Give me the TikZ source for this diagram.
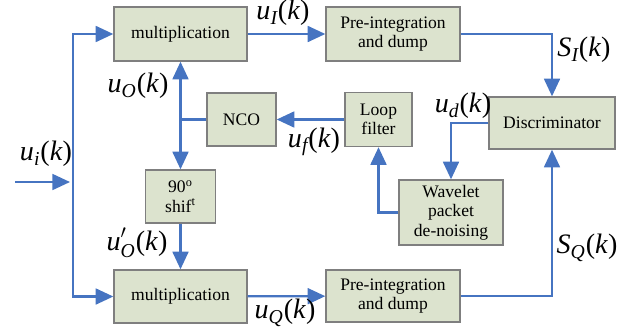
\documentclass[tikz,border=0pt]{standalone}
\usepackage{amsmath}
\usepackage{fontspec}
\setmainfont{Liberation Serif}
\usetikzlibrary{arrows.meta, positioning}
\definecolor{boxfill}{HTML}{DCE3CE}
\definecolor{boxline}{HTML}{7F7F7F}
\definecolor{wireblue}{HTML}{4674C1}
% signal name: letter, subscript, argument k
\newcommand{\sig}[2]{$\textit{#1}_{\textit{#2}}$(\textit{k})}

\begin{document}
\begin{tikzpicture}[
    block/.style = {
      rectangle, draw=boxline, fill=boxfill, line width=0.8pt,
      align=center, inner sep=0pt, font=\fontsize{10}{11}\selectfont
    },
    wire/.style  = {-{Triangle[length=10pt,width=9pt]}, line width=1.3pt, color=wireblue},
    plain/.style = {line width=1.3pt, color=wireblue},
    lbl/.style   = {font=\fontsize{16}{18}\selectfont, inner sep=0pt}
  ]
  \useasboundingbox (0,0) rectangle (12.42,-6.66);

  % I branch (top row)
  \node[block, minimum width=2.66cm, minimum height=1.08cm] at (3.61,-0.68) (multI) {multiplication};
  \node[block, minimum width=2.68cm, minimum height=1.08cm] at (7.86,-0.68) (preI)  {Pre-integration\\and dump};

  % loop in the middle
  \node[block, minimum width=2.52cm, minimum height=1.04cm] at (11.04,-2.46) (disc) {Discriminator};
  \node[block, minimum width=1.34cm, minimum height=1.08cm] at (7.57,-2.39)  (loop) {Loop\\filter};
  \node[block, minimum width=1.38cm, minimum height=1.06cm] at (4.83,-2.39)  (nco)  {NCO};
  \node[block, minimum width=1.40cm, minimum height=1.06cm] at (3.61,-3.93)  (shift) {90\textsuperscript{o}\\shif\textsuperscript{t}};
  \node[block, minimum width=2.08cm, minimum height=1.30cm] at (9.02,-4.25)  (wave) {Wavelet\\packet\\de-noising};

  % Q branch (bottom row)
  \node[block, minimum width=2.66cm, minimum height=1.06cm] at (3.61,-5.93) (multQ) {multiplication};
  \node[block, minimum width=2.68cm, minimum height=1.04cm] at (7.86,-5.92) (preQ)  {Pre-integration\\and dump};

  % input and trunk
  \coordinate (in)  at (0.30,-3.64);
  \coordinate (tin) at (1.46,-3.64);
  \coordinate (tap) at (nco.west -| multI.south);

  % Arrows
  \draw[wire]  (in) -- (1.40,-3.64);
  \draw[wire]  (tin) |- (multI.west);
  \draw[wire]  (tin) |- (multQ.west);
  \draw[wire]  (multI) -- (preI);
  \draw[wire]  (multQ) -- (preQ);
  \draw[wire]  (preI.east) -| (disc.north);
  \draw[wire]  (preQ.east) -| (disc.south);
  \draw[wire]  (disc.west) -| (wave.north);
  \draw[wire]  (wave.west) -| (loop.south);
  \draw[wire]  (loop) -- (nco);
  \draw[plain] (nco.west) -- (tap);
  \draw[wire]  (tap) -- (multI.south);
  \draw[wire]  (tap) -- (shift.north);
  \draw[wire]  (shift.south) -- (multQ.north);

  % signal labels
  \node[lbl] at (0.92,-3.08)  (lui)  {\sig{u}{i}};
  \node[lbl] at (5.66,-0.26)  (luI)  {\sig{u}{I}};
  \node[lbl] at (11.68,-1.00) (lsI)  {\sig{S}{I}};
  \node[lbl] at (9.26,-2.12)  (lud)  {\sig{u}{d}};
  \node[lbl] at (6.28,-2.84)  (luf)  {\sig{u}{f}};
  \node[lbl] at (2.76,-1.72)  (luO)  {\sig{u}{O}};
  \node[lbl] at (2.74,-4.86)  (luOp) {$\textit{u}^{\prime}_{\textit{O}}$(\textit{k})};
  \node[lbl] at (5.70,-6.26)  (luQ)  {\sig{u}{Q}};
  \node[lbl] at (11.74,-4.96) (lsQ)  {\sig{S}{Q}};
\end{tikzpicture}
\end{document}
